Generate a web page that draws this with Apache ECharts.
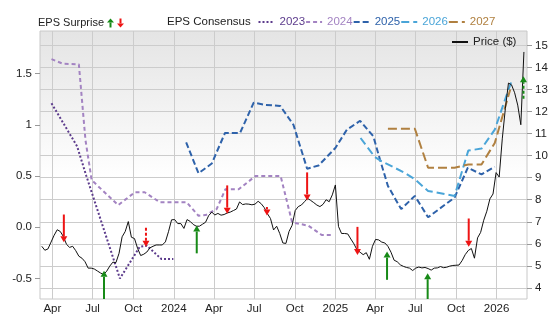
<!DOCTYPE html>
<html><head><meta charset="utf-8">
<script src="https://cdn.jsdelivr.net/npm/echarts@6/dist/echarts.min.js"></script>
<style>html,body{margin:0;padding:0;background:#fff}#c{width:556px;height:315px}</style>
</head><body><div id="c"></div>
<script>
const FONT = 'Liberation Sans';
// X axis (quarter starts)
const xTickDates = ['2023-04-01','2023-07-01','2023-10-01','2024-01-01','2024-04-01','2024-07-01','2024-10-01','2025-01-01','2025-04-01','2025-07-01','2025-10-01','2026-01-01'];
const xTickLabels = ['Apr','Jul','Oct','2024','Apr','Jul','Oct','2025','Apr','Jul','Oct','2026'];
const xMin = '2023-03-04', xMax = '2026-03-11';
// Left axis (EPS)
const epsTicks = [-0.5, 0, 0.5, 1, 1.5];
const epsTickLabels = ['-0.5', '0.0', '0.5', '1', '1.5'];
// Right axis (Price)
const priceTicks = [4,5,6,7,8,9,10,11,12,13,14,15];

// Weekly price closes starting at priceStart
const priceStart = '2023-03-08';
const priceValues = [
5.89,5.71,5.77,6.08,6.39,6.64,6.56,6.33,5.98,5.84,
5.89,5.69,5.44,5.35,5.19,4.90,4.90,4.86,4.77,4.68,
4.61,4.76,4.99,5.17,5.15,5.57,6.32,6.56,7.01,6.30,
6.24,5.80,5.47,5.53,5.63,5.82,5.89,5.95,5.95,5.95,
6.09,6.55,7.09,7.10,6.92,6.92,6.70,7.10,7.02,6.88,
6.80,6.80,6.89,6.98,7.28,7.44,7.31,7.38,7.30,7.33,
7.40,7.44,7.51,7.58,7.90,7.78,7.81,7.80,7.77,7.80,
7.93,7.82,7.64,7.37,7.15,6.63,6.80,6.47,6.04,6.02,
6.56,6.84,7.51,7.69,7.76,7.91,8.06,7.97,7.87,7.76,
7.69,7.79,8.00,7.91,8.22,8.67,6.79,6.47,6.47,6.45,
6.22,6.00,5.73,5.62,5.51,5.60,5.30,5.89,6.20,6.18,
6.08,6.04,5.89,5.62,5.26,5.19,5.05,4.98,4.93,4.90,
4.79,4.90,4.95,4.91,4.93,4.88,4.81,4.90,4.91,4.97,
4.92,4.94,4.99,5.02,5.03,5.04,5.24,5.51,5.70,5.79,
5.35,6.27,6.52,7.07,7.48,8.04,8.26,9.23,9.03,10.76,
12.14,13.29,13.21,12.85,12.29,11.40,14.70
];

// EPS consensus by fiscal year
const c2023Dates = ['2023-03-30','2023-05-27','2023-06-17','2023-09-01','2023-10-16','2023-11-01','2023-12-04','2023-12-31'];
const c2023Vals  = [1.21,0.79,0.50,-0.50,-0.19,-0.18,-0.31,-0.31];
const c2024Dates = ['2023-03-30','2023-04-25','2023-05-31','2023-06-15','2023-06-29','2023-08-28','2023-10-05','2023-10-27','2023-11-30','2024-01-30','2024-02-26','2024-03-13','2024-04-07','2024-04-27','2024-05-27','2024-07-04','2024-08-30','2024-09-25','2024-11-01','2024-12-01','2024-12-28'];
const c2024Vals  = [1.64,1.595,1.59,0.85,0.46,0.216,0.342,0.342,0.245,0.245,0.112,0.119,0.177,0.371,0.371,0.50,0.50,0.048,0.015,-0.075,-0.075];
const c2025Dates = ['2024-01-29','2024-02-26','2024-03-27','2024-04-26','2024-05-30','2024-06-30','2024-07-26','2024-08-29','2024-09-28','2024-10-29','2024-11-24','2025-01-01','2025-01-27','2025-02-26','2025-03-28','2025-04-12','2025-04-30','2025-05-30','2025-06-30','2025-07-30','2025-09-28','2025-10-28','2025-11-28','2025-12-28'];
const c2025Vals  = [0.829,0.526,0.622,0.92,0.92,1.216,1.194,1.184,1.0,0.571,0.603,0.774,0.952,1.039,0.887,0.661,0.403,0.177,0.306,0.097,0.29,0.581,0.516,0.59];
const c2026Dates = ['2025-02-27','2025-03-31','2025-04-15','2025-06-07','2025-06-30','2025-07-30','2025-09-28','2025-10-29','2025-11-28','2025-12-28','2026-01-20','2026-02-04'];
const c2026Vals  = [0.871,0.687,0.645,0.532,0.468,0.354,0.306,0.748,0.768,0.952,1.242,1.426];
const c2027Dates = ['2025-04-30','2025-06-30','2025-07-30','2025-09-28','2025-10-29','2025-11-28','2025-12-28','2026-02-01'];
const c2027Vals  = [0.961,0.961,0.581,0.581,0.613,0.613,0.823,1.344];

// EPS surprise arrows (price scale): arrow from -> to
const surpriseDates  = ['2023-04-27','2023-07-27','2023-10-30','2024-02-22','2024-05-01','2024-07-30','2024-10-29','2025-02-20','2025-04-28','2025-07-29','2025-10-30','2026-03-03'];
const surpriseFrom   = [7.33,3.3,6.73,5.57,8.65,7.67,9.24,6.77,4.37,3.3,7.15,12.58];
const surpriseTo     = [6.07,4.78,5.87,6.83,7.37,7.29,7.97,5.50,5.65,4.67,5.87,13.60];
const surpriseDashed = [0,0,1,0,0,0,0,0,0,0,0,1];

const COLORS = {c2023:'#5c3b8c', c2024:'#a383c2', c2025:'#2e62aa', c2026:'#4aa5d8', c2027:'#b08040', up:'#178a17', down:'#ee1414'};

function ts(s){ const p = s.split('-').map(Number); return new Date(p[0], p[1]-1, p[2]).getTime(); }
const xTickTs = xTickDates.map(ts);
const p0 = ts(priceStart);
const priceData = priceValues.map((v,i)=>{ const d=new Date(p0); d.setDate(d.getDate()+7*i); return [d.getTime(), v]; });
function pairs(ds, vs){ return ds.map((d,i)=>[ts(d), vs[i]]); }
const surpriseData = surpriseDates.map((d,i)=>[ts(d), surpriseFrom[i], surpriseTo[i], surpriseDashed[i]]);

const gridLine = {show:true, lineStyle:{color:'#cccccc', width:1}};
const chart = echarts.init(document.getElementById('c'), null, {renderer:'canvas'});

function consensus(name, data, color, dash){
  return {name, type:'line', data, xAxisIndex:0, yAxisIndex:0, symbol:'none', showSymbol:false,
    lineStyle:{color, width:2, type:dash}, itemStyle:{color}, z:3, animation:false};
}

chart.setOption({
  animation:false,
  textStyle:{fontFamily:FONT},
  grid:{left:40, right:29, top:31, bottom:14, show:true, borderColor:'#c8c8c8', borderWidth:1,
    backgroundColor:{type:'linear', x:0, y:0, x2:0, y2:1, colorStops:[{offset:0,color:'#e4e4e4'},{offset:0.55,color:'#ffffff'},{offset:1,color:'#ffffff'}]}},
  xAxis:{type:'value', min:ts(xMin), max:ts(xMax), scale:true,
    axisLine:{show:false}, splitLine:gridLine,
    axisTick:{show:false, customValues:xTickTs},
    axisLabel:{customValues:xTickTs, margin:4, fontSize:11.5, color:'#222', fontFamily:FONT,
      formatter:(v)=>{ const i = xTickTs.findIndex(t=>Math.abs(t-v)<1000); return i>=0 ? xTickLabels[i] : ''; }}},
  yAxis:[
    {type:'value', position:'left', min:-0.7, max:1.915,
      axisLine:{show:false}, splitLine:{show:false},
      axisTick:{show:true, length:5, customValues:epsTicks, lineStyle:{color:'#999'}},
      axisLabel:{customValues:epsTicks, margin:8, fontSize:11.5, color:'#222', fontFamily:FONT,
        formatter:(v)=>{ const i = epsTicks.findIndex(t=>Math.abs(t-v)<1e-6); return i>=0 ? epsTickLabels[i] : ''; }}},
    {type:'value', position:'right', min:3.5, max:15.65,
      axisLine:{show:false}, splitLine:gridLine,
      axisTick:{show:true, length:5, customValues:priceTicks, lineStyle:{color:'#999'}},
      axisLabel:{customValues:priceTicks, margin:8, fontSize:11.5, color:'#222', fontFamily:FONT}}
  ],
  legend:[
    {left:257.5, top:16, padding:0, itemWidth:16, itemHeight:14, itemGap:0,
      itemStyle:{opacity:0},
      textStyle:{fontSize:11.5, fontFamily:FONT},
      data:[
        {name:'2023', textStyle:{color:COLORS.c2023}},
        {name:'2024', textStyle:{color:COLORS.c2024}},
        {name:'2025', textStyle:{color:COLORS.c2025}},
        {name:'2026', textStyle:{color:COLORS.c2026}},
        {name:'2027', textStyle:{color:COLORS.c2027}}]},
    {left:451, top:36, padding:0, itemWidth:16, itemHeight:14,
      itemStyle:{opacity:0},
      textStyle:{fontSize:11.5, fontFamily:FONT, color:'#222'},
      data:['Price ($)']}
  ],
  graphic:[
    {type:'text', left:38, top:17, style:{text:'EPS Surprise', fontSize:11, fontFamily:FONT, fill:'#222'}},
    {type:'group', left:107, top:18.5, children:[
      {type:'polygon', shape:{points:[[3.5,0],[0,4],[7,4]]}, style:{fill:COLORS.up}},
      {type:'rect', shape:{x:2.5,y:4,width:2,height:5}, style:{fill:COLORS.up}}]},
    {type:'group', left:117, top:18.5, children:[
      {type:'rect', shape:{x:2.5,y:0,width:2,height:5}, style:{fill:COLORS.down}},
      {type:'polygon', shape:{points:[[0,5],[7,5],[3.5,9]]}, style:{fill:COLORS.down}}]},
    {type:'text', left:167, top:16, style:{text:'EPS Consensus', fontSize:11.5, fontFamily:FONT, fill:'#222'}}
  ],
  series:[
    consensus('2023', pairs(c2023Dates,c2023Vals), COLORS.c2023, [2,2]),
    consensus('2024', pairs(c2024Dates,c2024Vals), COLORS.c2024, [4,3]),
    consensus('2025', pairs(c2025Dates,c2025Vals), COLORS.c2025, [6,3]),
    consensus('2026', pairs(c2026Dates,c2026Vals), COLORS.c2026, [8,4]),
    consensus('2027', pairs(c2027Dates,c2027Vals), COLORS.c2027, [9,4]),
    {name:'Price ($)', type:'line', data:priceData, xAxisIndex:0, yAxisIndex:1, symbol:'none', showSymbol:false,
      lineStyle:{color:'#111', width:1}, itemStyle:{color:'#111'}, z:4},
    {name:'EPS Surprise', type:'custom', xAxisIndex:0, yAxisIndex:1, clip:true, z:5,
      encode:{x:0, y:[1,2]}, data:surpriseData,
      renderItem:(params, api)=>{
        const x = api.value(0), a = api.value(1), b = api.value(2), dashed = api.value(3);
        const s = api.coord([x,a]), e = api.coord([x,b]);
        const up = b > a; const color = up ? COLORS.up : COLORS.down;
        const hw = 3.5, hh = 6;
        const baseY = up ? e[1] + hh : e[1] - hh;
        return {type:'group', children:[
          {type:'line', shape:{x1:s[0], y1:s[1], x2:e[0], y2:baseY}, style:{stroke:color, lineWidth:2, lineDash: dashed ? [3,2] : null}},
          {type:'polygon', shape:{points:[[e[0],e[1]],[e[0]-hw,baseY],[e[0]+hw,baseY]]}, style:{fill:color}}
        ]};
      }}
  ]
});
</script></body></html>
